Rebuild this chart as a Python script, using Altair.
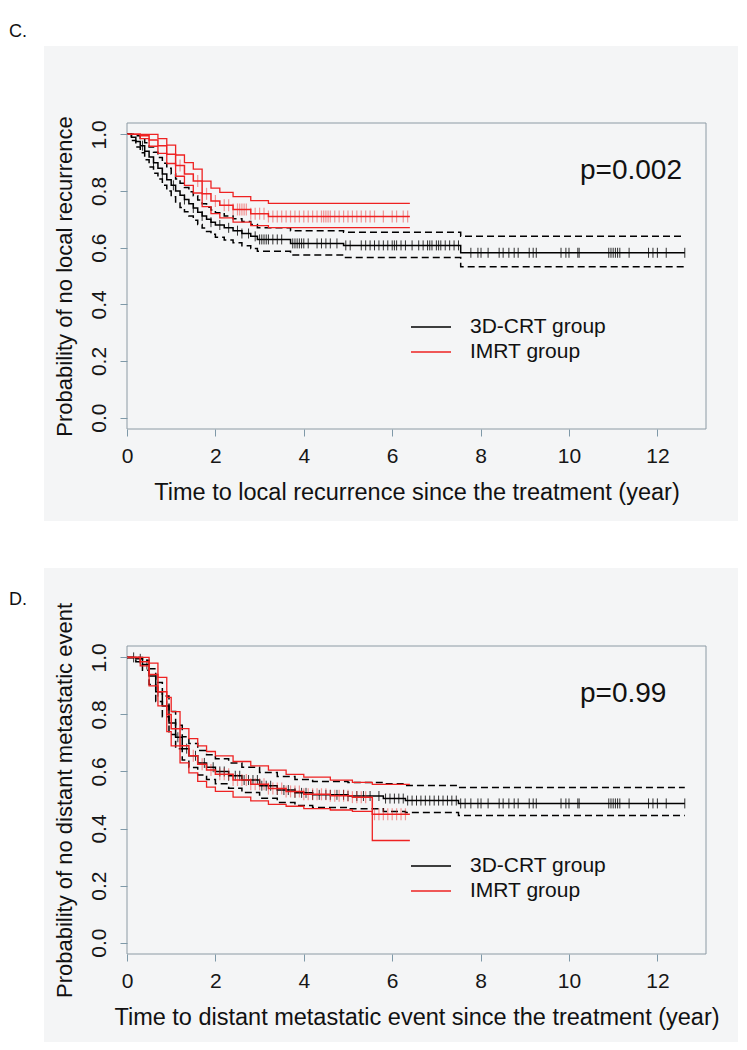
import altair as alt
import pandas as pd
import numpy as np

FONT = "Liberation Sans"
RED = "#ee2222"
BG = "#f4f5f6"
AXC = "#7f99a8"

# ---------------- Panel C: local recurrence ----------------
C_CRT_T = [0, 0.1, 0.2, 0.3, 0.4, 0.5, 0.6, 0.7, 0.8, 0.9, 1.0, 1.1, 1.2, 1.3, 1.4, 1.5, 1.6, 1.7, 1.8, 1.9,
           2.0, 2.2, 2.4, 2.6, 2.8, 2.95, 3.7, 4.9, 7.55]
C_CRT_S = [1.0, 0.99, 0.975, 0.96, 0.94, 0.92, 0.90, 0.88, 0.86, 0.84, 0.82, 0.80, 0.785, 0.77, 0.755, 0.74,
           0.725, 0.712, 0.70, 0.69, 0.68, 0.67, 0.66, 0.65, 0.64, 0.629, 0.615, 0.608, 0.582]
C_CRT_HI = [1.0, 1.0, 0.995, 0.985, 0.97, 0.955, 0.937, 0.918, 0.898, 0.88, 0.86, 0.842, 0.827, 0.812, 0.797,
            0.783, 0.768, 0.755, 0.743, 0.733, 0.723, 0.712, 0.702, 0.692, 0.682, 0.67, 0.66, 0.654, 0.64]
C_CRT_LO = [1.0, 0.978, 0.955, 0.935, 0.91, 0.885, 0.863, 0.842, 0.82, 0.8, 0.78, 0.758, 0.742, 0.727, 0.712,
            0.697, 0.682, 0.669, 0.657, 0.647, 0.637, 0.627, 0.617, 0.607, 0.597, 0.587, 0.574, 0.565, 0.533]
C_CRT_END = 12.62

C_IMRT_T = [0, 0.3, 0.5, 0.7, 0.9, 1.1, 1.3, 1.5, 1.7, 1.9, 2.1, 2.4, 2.8, 3.2]
C_IMRT_S = [1.0, 0.995, 0.98, 0.96, 0.93, 0.89, 0.86, 0.835, 0.79, 0.765, 0.75, 0.735, 0.72, 0.71]
C_IMRT_HI = [1.0, 1.0, 1.0, 0.985, 0.962, 0.927, 0.9, 0.877, 0.835, 0.81, 0.795, 0.78, 0.766, 0.756]
C_IMRT_LO = [1.0, 0.985, 0.958, 0.933, 0.897, 0.852, 0.82, 0.793, 0.745, 0.72, 0.705, 0.69, 0.678, 0.671]
C_IMRT_END = 6.4

C_CRT_CENS = [0.35, 0.6, 0.8, 1.05, 1.3, 1.5, 1.7, 1.9, 2.1, 2.3, 2.5, 2.6, 2.75, 2.9, 3.0, 3.05, 3.1, 3.15,
              3.2, 3.3, 3.4, 3.5, 3.75, 3.8, 3.85, 3.9, 3.95, 4.0, 4.1, 4.3, 4.4, 4.5, 4.6, 4.75, 4.95, 5.05,
              5.3, 5.4, 5.5, 5.6, 5.7, 5.8, 5.9, 6.0, 6.05, 6.1, 6.2, 6.3, 6.45, 6.6, 6.7, 6.8, 6.85, 6.9,
              7.0, 7.05, 7.1, 7.2, 7.3, 7.4, 7.5, 7.78, 7.94, 8.01, 8.17, 8.42, 8.51, 8.64, 8.76, 8.85, 9.1,
              9.19, 9.26, 9.82, 9.93, 10.0, 10.2, 10.23, 10.9, 10.95, 11.0, 11.05, 11.1, 11.15, 11.36, 11.8,
              11.9, 12.0, 12.2, 12.62]
C_IMRT_CENS = [1.2, 1.6, 1.8, 2.0, 2.2, 2.3, 2.4, 2.5, 2.55, 2.6, 2.65, 2.7, 2.8, 2.9, 3.0, 3.1, 3.2, 3.3,
               3.4, 3.5, 3.6, 3.7, 3.8, 3.9, 4.0, 4.1, 4.2, 4.3, 4.4, 4.45, 4.5, 4.55, 4.6, 4.7, 4.8, 4.9,
               5.0, 5.1, 5.2, 5.3, 5.4, 5.5, 5.6, 5.8, 6.0, 6.1, 6.25, 6.35]

# ---------------- Panel D: distant metastasis ----------------
D_CRT_T = [0, 0.2, 0.35, 0.5, 0.65, 0.8, 0.95, 1.1, 1.25, 1.4, 1.6, 1.8, 2.0, 2.3, 2.6, 3.0, 3.4, 3.8, 4.2,
           5.0, 5.8, 6.3, 7.5]
D_CRT_S = [1.0, 0.995, 0.975, 0.935, 0.88, 0.83, 0.77, 0.72, 0.68, 0.655, 0.63, 0.615, 0.60, 0.585, 0.57,
           0.55, 0.535, 0.525, 0.518, 0.514, 0.505, 0.498, 0.488]
D_CRT_HI = [1.0, 1.0, 0.99, 0.96, 0.912, 0.865, 0.81, 0.762, 0.722, 0.698, 0.674, 0.659, 0.645, 0.63, 0.615,
            0.596, 0.582, 0.572, 0.565, 0.561, 0.557, 0.551, 0.544]
D_CRT_LO = [1.0, 0.985, 0.955, 0.905, 0.845, 0.792, 0.73, 0.68, 0.64, 0.614, 0.588, 0.572, 0.557, 0.541,
            0.526, 0.506, 0.491, 0.481, 0.474, 0.469, 0.46, 0.456, 0.446]
D_CRT_END = 12.62

D_IMRT_T = [0, 0.3, 0.5, 0.7, 0.9, 1.0, 1.2, 1.4, 1.6, 1.8, 2.0, 2.4, 2.8, 3.2, 3.6, 4.0, 4.6, 5.1, 5.55]
D_IMRT_S = [1.0, 0.985, 0.94, 0.88, 0.80, 0.75, 0.69, 0.655, 0.625, 0.605, 0.59, 0.57, 0.555, 0.54, 0.53,
            0.52, 0.515, 0.51, 0.45]
D_IMRT_HI = [1.0, 1.0, 0.98, 0.93, 0.86, 0.81, 0.75, 0.715, 0.69, 0.67, 0.655, 0.635, 0.62, 0.605, 0.59,
             0.58, 0.57, 0.562, 0.555]
D_IMRT_LO = [1.0, 0.97, 0.9, 0.83, 0.74, 0.69, 0.63, 0.595, 0.565, 0.545, 0.53, 0.51, 0.497, 0.485, 0.478,
             0.47, 0.465, 0.46, 0.358]
D_IMRT_END = 6.4

D_CRT_CENS = [0.15, 0.3, 0.45, 0.7, 0.9, 1.15, 1.35, 1.55, 1.75, 1.95, 2.1, 2.2, 2.3, 2.45, 2.55, 2.65, 2.75,
              2.85, 2.95, 3.05, 3.15, 3.25, 3.4, 3.55, 3.65, 3.8, 3.95, 4.05, 4.2, 4.35, 4.5, 4.6, 4.75, 4.9,
              5.0, 5.2, 5.35, 5.5, 5.7, 5.85, 5.95, 6.05, 6.15, 6.25, 6.35, 6.45, 6.55, 6.65, 6.75, 6.85,
              6.95, 7.05, 7.15, 7.25, 7.35, 7.45, 7.55, 7.65, 7.78, 7.94, 8.01, 8.17, 8.42, 8.51, 8.64, 8.76,
              8.85, 9.1, 9.19, 9.26, 9.82, 9.93, 10.0, 10.2, 10.23, 10.9, 10.95, 11.0, 11.05, 11.1, 11.15,
              11.36, 11.8, 11.9, 12.0, 12.2, 12.62]
D_IMRT_CENS = [1.5, 1.7, 1.9, 2.1, 2.2, 2.3, 2.4, 2.5, 2.6, 2.7, 2.8, 2.9, 3.0, 3.1, 3.2, 3.3, 3.4, 3.5, 3.6,
               3.7, 3.8, 3.9, 4.0, 4.1, 4.2, 4.3, 4.4, 4.5, 4.6, 4.7, 4.8, 4.9, 5.0, 5.1, 5.2, 5.3, 5.4, 5.6,
               5.7, 5.8, 5.9, 6.0, 6.1, 6.2, 6.3]

X_TICKS = [0, 2, 4, 6, 8, 10, 12]
Y_TICKS = [0.0, 0.2, 0.4, 0.6, 0.8, 1.0]
GROUPS = ["3D-CRT group", "IMRT group"]
GROUP_COLORS = ["black", RED]

W = 579


def curve_df(ts, ss, end, name):
    t = list(ts) + [end]
    s = list(ss) + [ss[-1]]
    return pd.DataFrame({"t": t, "s": s, "series": name})


def cens_df(times, ts, ss):
    ts_a = np.array(ts)
    vals = [ss[int(np.searchsorted(ts_a, c, side="right")) - 1] for c in times]
    return pd.DataFrame({"t": times, "s": vals})


def panel(label, ptext, xtitle, ytitle, H, crt, imrt, crt_cens, imrt_cens,
          bg_top, bg_bot, label_y, leg_y, anchor):
    xs = alt.Scale(domain=[0, 13.1], nice=False, zero=False)
    ys = alt.Scale(domain=[-0.04, 1.04], nice=False, zero=False)
    xaxis = alt.Axis(values=X_TICKS, format="d", title=xtitle, tickSize=7, tickColor=AXC, tickWidth=1,
                     domain=False, grid=False, labelFont=FONT, labelFontSize=21, labelColor="#161616",
                     labelPadding=9, titleFont=FONT, titleFontSize=23.5, titleFontWeight="normal",
                     titleColor="#111", titlePadding=14, zindex=1, labelFlush=False)
    yaxis = alt.Axis(values=Y_TICKS, format=".1f", title=ytitle, tickSize=7, tickColor=AXC, tickWidth=1,
                     domain=False, grid=False, labelFont=FONT, labelFontSize=21, labelColor="#161616",
                     labelAngle=270, labelAlign="center", labelBaseline="bottom", labelPadding=11,
                     titleFont=FONT, titleFontSize=22, titleFontWeight="normal", titleColor="#111",
                     titlePadding=12, zindex=1, labelFlush=False)

    X = alt.X("t:Q", scale=xs, axis=xaxis)
    Y = alt.Y("s:Q", scale=ys, axis=yaxis)

    one = pd.DataFrame({"k": [0]})

    bg = alt.Chart(one).mark_rect(color=BG).encode(
        x=alt.value(-83), x2=alt.value(611), y=alt.value(bg_top), y2=alt.value(bg_bot))
    layers = [bg]
    if anchor:
        layers.append(alt.Chart(one).mark_rect(opacity=0).encode(
            x=alt.value(-118), x2=alt.value(-117), y=alt.value(-114), y2=alt.value(-113)))
    lab = alt.Chart(one).mark_text(text=label, align="left", baseline="middle", font=FONT,
                                   fontSize=18, color="#111").encode(
        x=alt.value(-118), y=alt.value(label_y))
    frame = alt.Chart(one).mark_rect(fillOpacity=0, stroke="#8c9aa4", strokeWidth=1).encode(
        x=alt.value(0), x2=alt.value(W), y=alt.value(0), y2=alt.value(H))
    layers += [lab, frame]

    (ct, cs, clo, chi, cend) = crt
    (it, is_, ilo, ihi, iend) = imrt

    crt_ci = pd.concat([curve_df(ct, clo, cend, "lo"), curve_df(ct, chi, cend, "hi")])
    imrt_ci = pd.concat([curve_df(it, ilo, iend, "lo"), curve_df(it, ihi, iend, "hi")])
    crt_main = curve_df(ct, cs, cend, GROUPS[0])
    imrt_main = curve_df(it, is_, iend, GROUPS[1])

    l_crt_ci = alt.Chart(crt_ci).mark_line(interpolate="step-after", color="black", strokeWidth=1.5,
                                           strokeDash=[7, 4]).encode(x=X, y=Y, detail="series:N")
    l_crt = alt.Chart(crt_main).mark_line(interpolate="step-after", strokeWidth=1.5,
                                          color=GROUP_COLORS[0]).encode(x=X, y=Y)
    p_crt = alt.Chart(cens_df(crt_cens, ct, cs)).mark_point(
        shape="M0,-1L0,1", size=100, filled=False, color="black", strokeWidth=1, opacity=0.8).encode(
        x=X, y=Y)
    l_imrt_ci = alt.Chart(imrt_ci).mark_line(interpolate="step-after", color=RED, strokeWidth=1.3).encode(
        x=X, y=Y, detail="series:N")
    l_imrt = alt.Chart(imrt_main).mark_line(interpolate="step-after", strokeWidth=1.5,
                                            color=GROUP_COLORS[1]).encode(x=X, y=Y)
    p_imrt = alt.Chart(cens_df(imrt_cens, it, is_)).mark_point(
        shape="M0,-1L0,1", size=144, filled=False, color=RED, strokeWidth=1.2, opacity=0.45).encode(
        x=X, y=Y)

    ptx = alt.Chart(one).mark_text(text=ptext, align="left", baseline="alphabetic", font=FONT,
                                   fontSize=28, color="#111").encode(x=alt.value(453), y=alt.value(56))

    legend_layers = []
    for i, (g, col) in enumerate(zip(GROUPS, GROUP_COLORS)):
        yy = leg_y + 25 * i
        legend_layers.append(alt.Chart(one).mark_rule(strokeWidth=1.5, color=col).encode(
            x=alt.value(284), x2=alt.value(324), y=alt.value(yy)))
        legend_layers.append(alt.Chart(one).mark_text(text=g, align="left", baseline="middle", font=FONT,
                                                      fontSize=21, color="#111").encode(
            x=alt.value(343), y=alt.value(yy)))

    layers += [l_crt_ci, l_crt, p_crt, l_imrt_ci, l_imrt, p_imrt, ptx] + legend_layers
    return alt.layer(*layers).properties(width=W, height=H)


chart_c = panel("C.", "p=0.002", "Time to local recurrence since the treatment (year)",
                "Probability of no local recurrence", 306,
                (C_CRT_T, C_CRT_S, C_CRT_LO, C_CRT_HI, C_CRT_END),
                (C_IMRT_T, C_IMRT_S, C_IMRT_LO, C_IMRT_HI, C_IMRT_END),
                C_CRT_CENS, C_IMRT_CENS, bg_top=-77, bg_bot=398, label_y=-91, leg_y=204, anchor=True)

chart_d = panel("D.", "p=0.99", "Time to distant metastatic event since the treatment (year)",
                "Probability of no distant metastatic event", 308,
                (D_CRT_T, D_CRT_S, D_CRT_LO, D_CRT_HI, D_CRT_END),
                (D_IMRT_T, D_IMRT_S, D_IMRT_LO, D_IMRT_HI, D_IMRT_END),
                D_CRT_CENS, D_IMRT_CENS, bg_top=-78, bg_bot=396, label_y=-46, leg_y=220, anchor=False)

chart = alt.vconcat(chart_c, chart_d, spacing=45).properties(
    padding={"left": 0, "top": 0, "right": 0, "bottom": 0}
).configure_view(strokeWidth=0).configure(background="white")

chart.save("out.html", embed_options={"renderer": "svg", "actions": False})
